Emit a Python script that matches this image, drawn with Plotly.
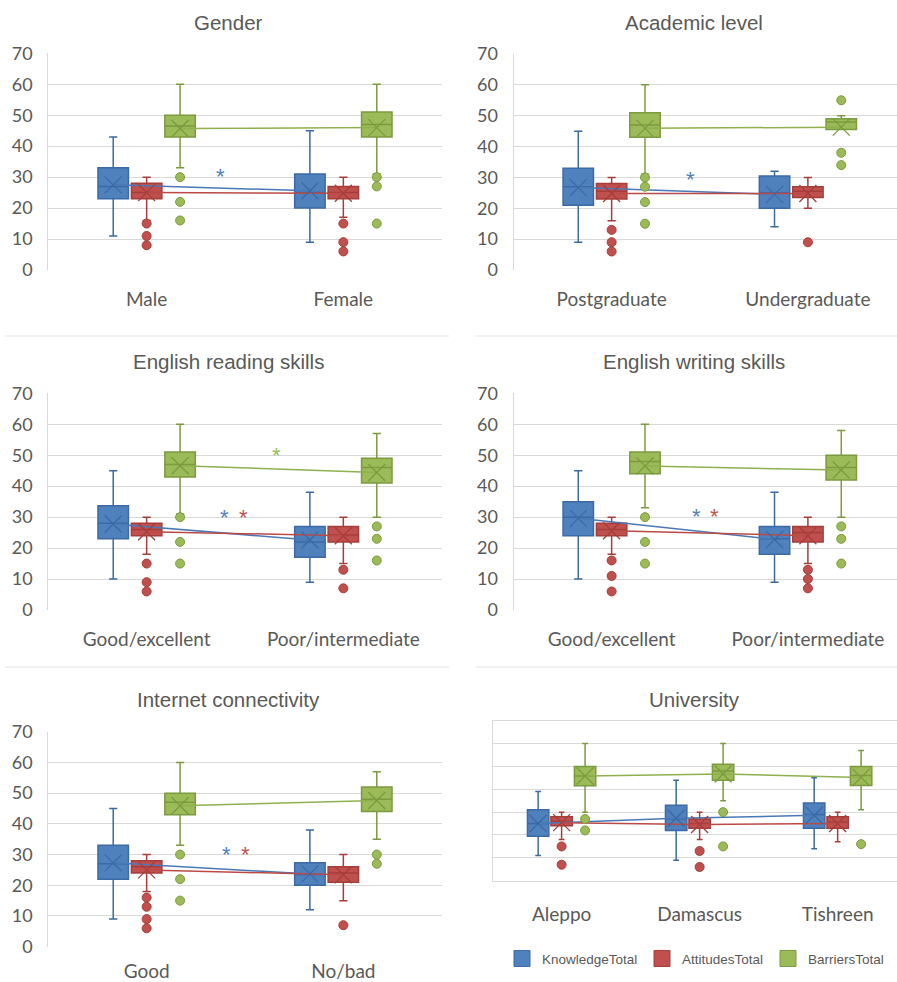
import plotly.graph_objects as go

# ---------------- data ----------------
SERIES = ["KnowledgeTotal", "AttitudesTotal", "BarriersTotal"]

GENDER_CATS = ["Male", "Female"]
GENDER_K = dict(lo=[11, 9], q1=[23, 20], med=[27, 25], q3=[33, 31], hi=[43, 45], mean=[27.5, 25.6], out=[[], []])
GENDER_A = dict(lo=[16, 17], q1=[23, 23], med=[25, 25], q3=[28, 27], hi=[30, 30], mean=[25, 24.8], out=[[15, 11, 8], [15, 9, 6]])
GENDER_B = dict(lo=[33, 31], q1=[43, 43], med=[46.5, 47], q3=[50, 51], hi=[60, 60], mean=[45.7, 46], out=[[30, 22, 16], [30, 27, 15]])

ACAD_CATS = ["Postgraduate", "Undergraduate"]
ACAD_K = dict(lo=[9, 14], q1=[21, 20], med=[27, 25], q3=[33, 30.5], hi=[45, 32], mean=[26.7, 24.5], out=[[], []])
ACAD_A = dict(lo=[16, 20], q1=[23, 23.5], med=[25.5, 25.5], q3=[28, 27], hi=[30, 30], mean=[24.8, 24.8], out=[[13, 9, 6], [9]])
ACAD_B = dict(lo=[31, 45.5], q1=[43, 45.5], med=[47, 48], q3=[51, 49], hi=[60, 50], mean=[45.9, 46.3], out=[[30, 27, 22, 15], [55, 38, 34]])

READ_CATS = ["Good/excellent", "Poor/intermediate"]
READ_K = dict(lo=[10, 9], q1=[23, 17], med=[28, 22], q3=[33.7, 27], hi=[45, 38], mean=[27.8, 22.6], out=[[], []])
READ_A = dict(lo=[18, 15], q1=[24, 22], med=[26, 24.2], q3=[28, 27], hi=[30, 30], mean=[25.3, 24], out=[[15, 9, 6], [13, 7]])
READ_B = dict(lo=[31, 30], q1=[43, 41], med=[47, 46], q3=[51, 49], hi=[60, 57], mean=[46.6, 44.4], out=[[30, 22, 15], [27, 23, 16]])

WRITE_CATS = ["Good/excellent", "Poor/intermediate"]
WRITE_K = dict(lo=[10, 9], q1=[24, 18], med=[30, 23], q3=[35, 27], hi=[45, 38], mean=[29.6, 22.8], out=[[], []])
WRITE_A = dict(lo=[18, 15], q1=[24, 22], med=[26, 25], q3=[28, 27], hi=[30, 30], mean=[25.6, 24], out=[[16, 11, 6], [13, 10, 7]])
WRITE_B = dict(lo=[33, 30], q1=[44, 42], med=[48, 46], q3=[51, 50], hi=[60, 58], mean=[46.5, 45.2], out=[[30, 22, 15], [27, 23, 15]])

NET_CATS = ["Good", "No/bad"]
NET_K = dict(lo=[9, 12], q1=[22, 20], med=[27, 23.5], q3=[33, 27.3], hi=[45, 38], mean=[27.3, 23.7], out=[[], []])
NET_A = dict(lo=[18, 15], q1=[24, 21], med=[26, 24], q3=[28, 26], hi=[30, 30], mean=[25, 23.4], out=[[16, 13, 9, 6], [7]])
NET_B = dict(lo=[33, 35], q1=[43, 44], med=[47, 48], q3=[50, 52], hi=[60, 57], mean=[45.9, 47.6], out=[[30, 22, 15], [30, 27]])

UNI_CATS = ["Aleppo", "Damascus", "Tishreen"]
UNI_K = dict(lo=[11, 9, 14], q1=[19.5, 22, 23], med=[25, 27, 29], q3=[31, 33, 34], hi=[39, 44, 45], mean=[25, 27.3, 28.6], out=[[], [], []])
UNI_A = dict(lo=[18, 18, 17], q1=[24, 23, 23], med=[26, 25, 25.7], q3=[28, 27, 28], hi=[30, 30, 30], mean=[25.4, 24.6, 25], out=[[15, 7], [13, 6], []])
UNI_B = dict(lo=[30, 35, 31], q1=[41.5, 44, 41.7], med=[45.8, 48, 46], q3=[50, 51, 50], hi=[60, 60, 57], mean=[45.8, 46.7, 45.2], out=[[27, 22], [30, 15], [16]])

TITLES = ["Gender", "Academic level", "English reading skills", "English writing skills", "Internet connectivity", "University"]
Y_TICKS = [0, 10, 20, 30, 40, 50, 60, 70]

# significance asterisks: (x position between categories, y value, series index)
STARS = [
    [(0.373, 31, 0)],
    [(0.40, 30, 0)],
    [(0.395, 30.5, 0), (0.492, 30.5, 1), (0.658, 50.6, 2)],
    [(0.433, 30.7, 0), (0.523, 30.7, 1)],
    [(0.407, 30.6, 0), (0.50, 30.6, 1)],
    [],
]

# ---------------- styling ----------------
W, H = 897, 982
FILL = ["#4f81bd", "#c0504d", "#9bbb59"]
EDGE = ["#3b6aa6", "#a53e3b", "#7c9a3f"]
LINEC = ["#4a78b8", "#bb4a47", "#8fb04e"]
GRID = "#d9d9d9"
TXT = "#595959"
OFFS = [-0.17, 0.0, 0.17]
BOXW = 0.155

PANELS = [
    (GENDER_CATS, [GENDER_K, GENDER_A, GENDER_B]),
    (ACAD_CATS, [ACAD_K, ACAD_A, ACAD_B]),
    (READ_CATS, [READ_K, READ_A, READ_B]),
    (WRITE_CATS, [WRITE_K, WRITE_A, WRITE_B]),
    (NET_CATS, [NET_K, NET_A, NET_B]),
    (UNI_CATS, [UNI_K, UNI_A, UNI_B]),
]

# pixel geometry of each plot area: (left, right, top, bottom, x range max, x label standoff)
GEOM = [
    (48.3, 441.7, 53.3, 270.0, 1.5, 16),
    (513.5, 897.0, 54.0, 270.0, 1.454, 16),
    (48.3, 441.7, 393.3, 610.0, 1.5, 16),
    (513.5, 897.0, 393.3, 610.0, 1.454, 16),
    (48.3, 441.7, 731.7, 946.7, 1.5, 11),
    (492.6, 897.0, 720.7, 880.7, 2.43, 16),
]
TITLE_POS = [(228.5, 22.7), (694, 22.7), (228.8, 361.7), (694.3, 361.7), (228.8, 699.3), (694.3, 699.3)]

fig = go.Figure()
layout = dict(
    width=W, height=H, margin=dict(l=0, r=0, t=0, b=0, autoexpand=False),
    paper_bgcolor="white", plot_bgcolor="white", showlegend=True,
    annotations=[], shapes=[],
)

for p, ((cats, series), (l, r, t, b, xmax, xstand)) in enumerate(zip(PANELS, GEOM)):
    sfx = "" if p == 0 else str(p + 1)
    xa, ya = "x" + sfx, "y" + sfx
    uni = (p == 5)
    n = len(cats)
    layout["xaxis" + sfx] = dict(
        domain=[l / W, r / W], anchor=ya, range=[-0.5, xmax], automargin=False,
        tickvals=list(range(n)), ticktext=cats, showgrid=False, zeroline=False,
        showline=uni, mirror=uni, linecolor=GRID, ticks="",
        tickfont=dict(family="Lato", size=19, color=TXT), ticklabelstandoff=xstand,
    )
    layout["yaxis" + sfx] = dict(
        domain=[1 - b / H, 1 - t / H], anchor=xa, range=[0, 70], automargin=False,
        tickvals=Y_TICKS, showticklabels=not uni, showgrid=True, gridcolor=GRID, gridwidth=1,
        zeroline=False, showline=True, mirror=uni, linecolor=GRID, ticks="",
        tickfont=dict(family="Lato", size=18, color=TXT), ticklabelstandoff=11,
    )
    # boxes
    for s, d in enumerate(series):
        xs = [i + OFFS[s] for i in range(n)]
        fig.add_trace(go.Box(
            x=xs, q1=d["q1"], median=d["med"], q3=d["q3"],
            lowerfence=d["lo"], upperfence=d["hi"],
            width=BOXW, whiskerwidth=0.27, fillcolor=FILL[s],
            line=dict(color=EDGE[s], width=1.5), boxpoints=False,
            xaxis=xa, yaxis=ya, showlegend=False, hoverinfo="skip",
        ))
    # mean lines
    for s, d in enumerate(series):
        xs = [i + OFFS[s] for i in range(n)]
        fig.add_trace(go.Scatter(
            x=xs, y=d["mean"], mode="lines", line=dict(color=LINEC[s], width=1.5),
            xaxis=xa, yaxis=ya, showlegend=False, hoverinfo="skip",
        ))
    # mean markers + outliers
    for s, d in enumerate(series):
        xs = [i + OFFS[s] for i in range(n)]
        fig.add_trace(go.Scatter(
            x=xs, y=d["mean"], mode="markers",
            marker=dict(symbol="x-thin", size=17, line=dict(color=EDGE[s], width=1.3)),
            xaxis=xa, yaxis=ya, showlegend=False, hoverinfo="skip",
        ))
        ox, oy = [], []
        for i, vals in enumerate(d["out"]):
            for v in vals:
                ox.append(i + OFFS[s])
                oy.append(v)
        if ox:
            fig.add_trace(go.Scatter(
                x=ox, y=oy, mode="markers",
                marker=dict(symbol="circle", size=9, color=FILL[s], line=dict(color=EDGE[s], width=1)),
                xaxis=xa, yaxis=ya, showlegend=False, hoverinfo="skip",
            ))
    # title
    tx, ty = TITLE_POS[p]
    layout["annotations"].append(dict(
        text=TITLES[p], x=tx / W, y=1 - ty / H, xref="paper", yref="paper",
        xanchor="center", yanchor="middle", showarrow=False,
        font=dict(family="Liberation Sans", size=20.5, color=TXT),
    ))
    for (sx, sy, si) in STARS[p]:
        layout["annotations"].append(dict(
            text="*", x=sx, y=sy, xref=xa, yref=ya, xanchor="center", yanchor="middle",
            showarrow=False, yshift=-2, font=dict(family="Liberation Sans", size=22, color=FILL[si]),
        ))

# separator lines between chart rows
for yy in [336, 667]:
    for x0, x1 in [(5, 449), (476, 897)]:
        layout["shapes"].append(dict(type="line", xref="paper", yref="paper",
                                     x0=x0 / W, x1=x1 / W, y0=1 - yy / H, y1=1 - yy / H,
                                     line=dict(color="#e3e3e3", width=1)))

# legends (one per series)
LEG_X = [502, 642, 768]
for s, name in enumerate(SERIES):
    key = "legend" if s == 0 else "legend" + str(s + 1)
    fig.add_trace(go.Scatter(
        x=[None], y=[None], mode="markers", name=name, legend=key,
        marker=dict(symbol="square", size=18, color=FILL[s], line=dict(color=EDGE[s], width=1)),
        xaxis="x6", yaxis="y6",
    ))
    layout[key] = dict(x=LEG_X[s] / W, y=1 - 958.7 / H, xanchor="left", yanchor="middle",
                       bgcolor="rgba(0,0,0,0)", borderwidth=0, itemwidth=30,
                       font=dict(family="Liberation Sans", size=13.5, color=TXT))

fig.update_layout(**layout)
fig.write_html("out.html", config={"displayModeBar": False},
               post_script="document.body.style.margin='0';")
